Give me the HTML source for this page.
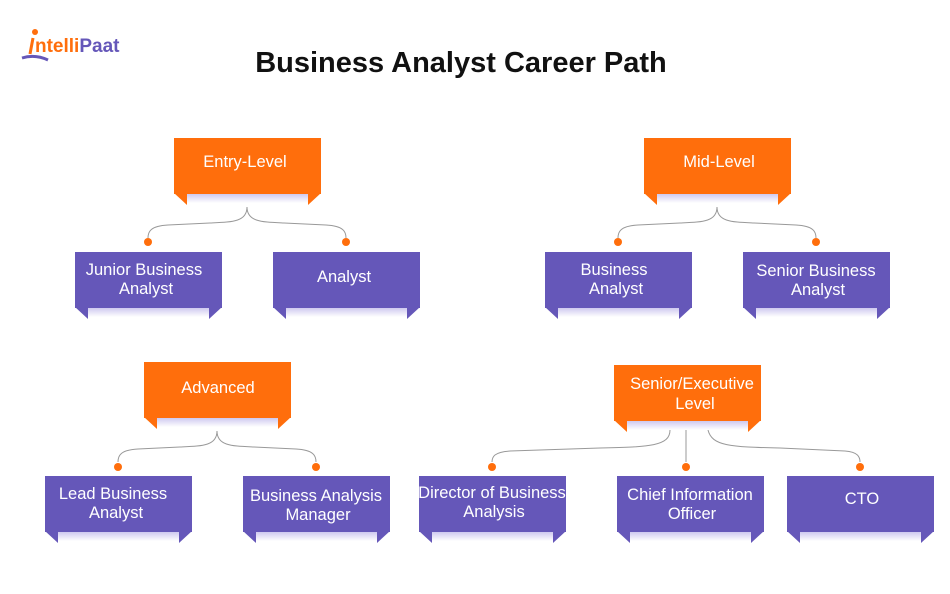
<!DOCTYPE html>
<html><head><meta charset="utf-8"><style>
body{margin:0;background:#fff;}
svg{display:block;font-family:"Liberation Sans",sans-serif;}
</style></head><body>
<svg width="950" height="594" viewBox="0 0 950 594" xmlns="http://www.w3.org/2000/svg">
<defs>
<linearGradient id="sh" x1="0" y1="0" x2="0" y2="1"><stop offset="0" stop-color="#c9c3ee"/><stop offset="1" stop-color="#ffffff"/></linearGradient>
<symbol id="o" viewBox="0 0 147 67"><rect x="13" y="55" width="121" height="10" fill="url(#sh)"/><rect x="0" y="0" width="147" height="56" fill="#ff6e0c"/><polygon points="0,55 13,55 13,67" fill="#ff6e0c"/><polygon points="134,55 147,55 134,67" fill="#ff6e0c"/></symbol>
<symbol id="p" viewBox="0 0 147 67"><rect x="13" y="55" width="121" height="10" fill="url(#sh)"/><rect x="0" y="0" width="147" height="56" fill="#6557b9"/><polygon points="0,55 13,55 13,67" fill="#6557b9"/><polygon points="134,55 147,55 134,67" fill="#6557b9"/></symbol>
</defs>
<text x="35" y="52" font-size="19" font-weight="bold" fill="#ff6e0c">ntelli<tspan fill="#6557b9">Paat</tspan></text>
<path d="M33,38 L30,54" stroke="#ff6e0c" stroke-width="3"/><circle cx="35" cy="32" r="3" fill="#ff6e0c"/>
<path d="M22,58 Q35,54 48,60" stroke="#6557b9" stroke-width="3" fill="none"/>
<text x="461" y="72" font-size="29" font-weight="bold" fill="#111" text-anchor="middle">Business Analyst Career Path</text>

<g fill="none" stroke="#999" stroke-width="1">
<path d="M247,207 C247,222 232,222 210,223 L168,225 C150,226 148,232 148,238"/>
<path d="M247,207 C247,222 262,222 284,223 L326,225 C344,226 346,232 346,238"/>
<path d="M717,207 C717,222 702,222 680,223 L638,225 C620,226 618,232 618,238"/>
<path d="M717,207 C717,222 732,222 754,223 L796,225 C814,226 816,232 816,238"/>
<path d="M217,431 C217,446 202,446 180,447 L138,449 C120,450 118,456 118,462"/>
<path d="M217,431 C217,446 232,446 254,447 L296,449 C314,450 316,456 316,462"/>
<path d="M670,430 C670,446 650,447 600,448 L510,451 C494,452 492,457 492,462"/>
<path d="M686,430 L686,462"/>
<path d="M708,430 C712,446 730,447 780,448 L845,451 C858,452 860,457 860,462"/>
</g>
<g fill="#ff6e0c">
<circle cx="148" cy="242" r="4"/><circle cx="346" cy="242" r="4"/>
<circle cx="618" cy="242" r="4"/><circle cx="816" cy="242" r="4"/>
<circle cx="118" cy="467" r="4"/><circle cx="316" cy="467" r="4"/>
<circle cx="492" cy="467" r="4"/><circle cx="686" cy="467" r="4"/><circle cx="860" cy="467" r="4"/>
</g>

<use href="#o" x="174" y="138" width="147" height="67"/>
<use href="#o" x="644" y="138" width="147" height="67"/>
<use href="#o" x="144" y="362" width="147" height="67"/>
<use href="#o" x="614" y="365" width="147" height="67"/>
<use href="#p" x="75" y="252" width="147" height="67"/>
<use href="#p" x="273" y="252" width="147" height="67"/>
<use href="#p" x="545" y="252" width="147" height="67"/>
<use href="#p" x="743" y="252" width="147" height="67"/>
<use href="#p" x="45" y="476" width="147" height="67"/>
<use href="#p" x="243" y="476" width="147" height="67"/>
<use href="#p" x="419" y="476" width="147" height="67"/>
<use href="#p" x="617" y="476" width="147" height="67"/>
<use href="#p" x="787" y="476" width="147" height="67"/>

<g fill="#fff" font-size="16.5" text-anchor="middle">
<text x="245" y="167">Entry-Level</text>
<text x="719" y="167">Mid-Level</text>
<text x="218" y="393">Advanced</text>
<text x="692" y="389">Senior/Executive</text><text x="695" y="409">Level</text>
<text x="144" y="275">Junior Business</text><text x="146" y="294">Analyst</text>
<text x="344" y="282">Analyst</text>
<text x="614" y="275">Business</text><text x="616" y="294">Analyst</text>
<text x="816" y="276">Senior Business</text><text x="818" y="295">Analyst</text>
<text x="113" y="499">Lead Business</text><text x="116" y="518">Analyst</text>
<text x="316" y="501">Business Analysis</text><text x="318" y="520">Manager</text>
<text x="492" y="498">Director of Business</text><text x="494" y="517">Analysis</text>
<text x="690" y="500">Chief Information</text><text x="692" y="519">Officer</text>
<text x="862" y="504">CTO</text>
</g>
</svg>
</body></html>
